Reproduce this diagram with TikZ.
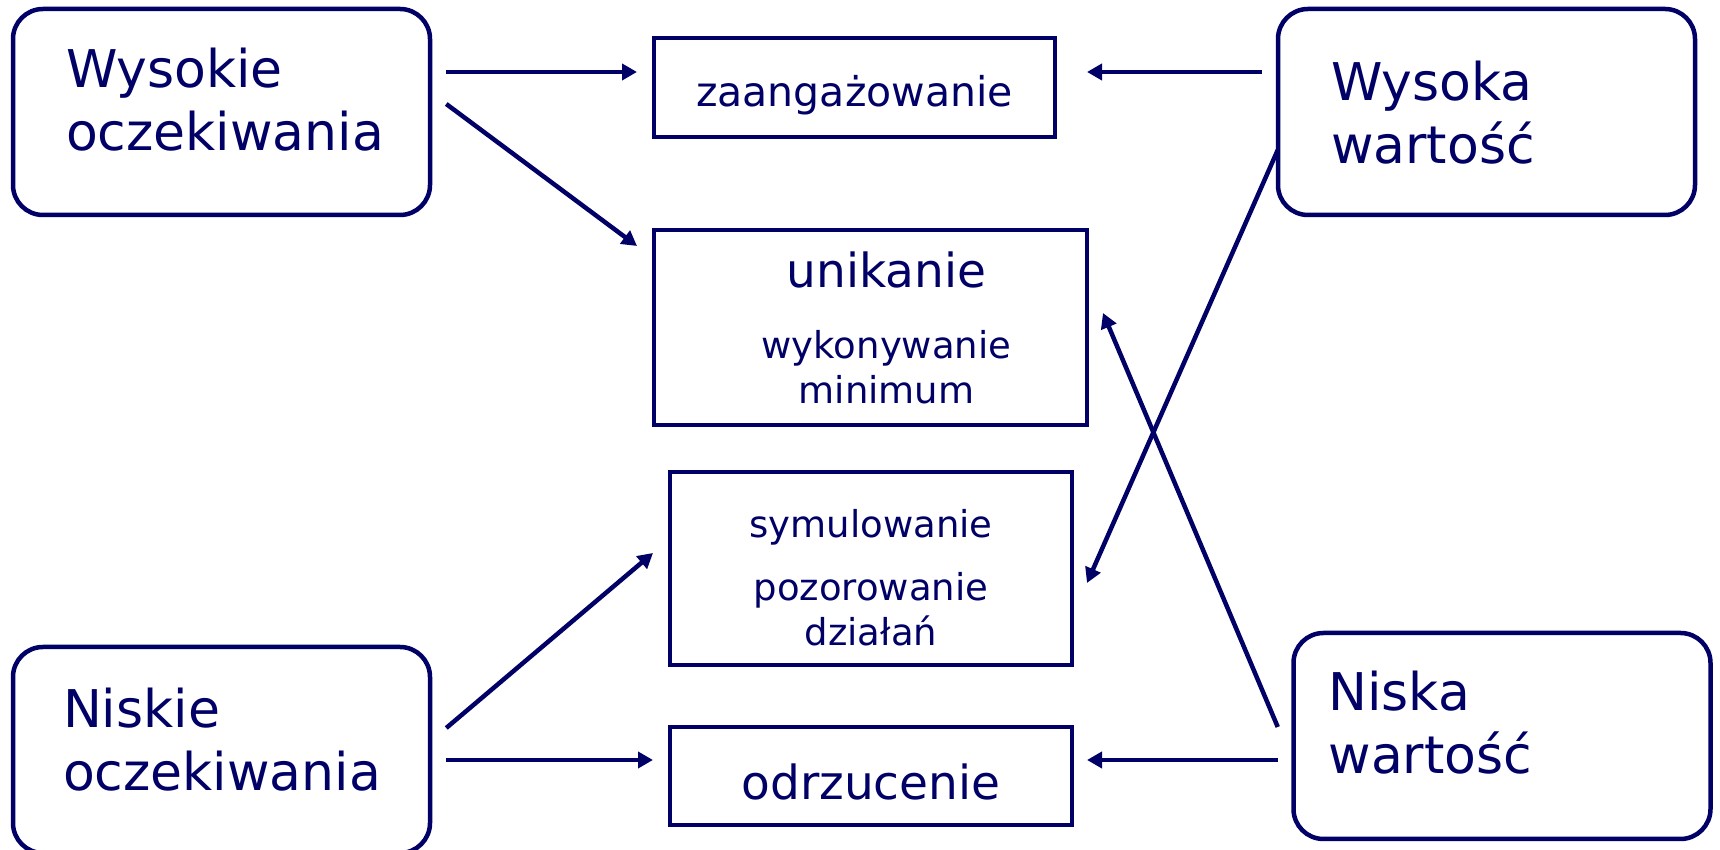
\documentclass[tikz,border=0pt]{standalone}
\usepackage{fontspec}
\setmainfont{DejaVu Sans}
\usetikzlibrary{arrows.meta}
\definecolor{navy}{RGB}{0,0,102}
\tikzset{
  bigbox/.style={draw=navy, text=navy, line width=2.25pt, rounded corners=15pt,
    minimum width=208.5pt, minimum height=103pt, inner xsep=26.5pt,
    text width=155.5pt, align=left,
    font=\fontsize{26}{31.5}\selectfont},
  smallbox/.style={draw=navy, text=navy, line width=2pt, align=center,
    font=\fontsize{18.5}{22.5}\selectfont},
  arr/.style={draw=navy, line width=2.25pt, -{Triangle[length=7.5pt,width=8pt]}},
}
\begin{document}
\hyphenpenalty=10000
\begin{tikzpicture}[x=0.5pt, y=0.5pt]
\useasboundingbox (0,0) rectangle (1720,850);
% expectations
\node[bigbox, text depth=44.5pt] (wo) at (221.5,738) {Wysokie\\oczekiwania};
\node[bigbox, text depth=42.5pt, inner xsep=25pt, text width=158.5pt] (no) at (221.5,100) {Niskie\\oczekiwania};
% values
\node[bigbox, text depth=31pt] (ww) at (1486.5,738) {Wysoka\\wartość};
\node[bigbox, text depth=45.5pt, inner xsep=17.5pt, text width=173.5pt] (nw) at (1502,114) {Niska\\wartość};
% outcomes
\node[smallbox, minimum width=200.5pt, minimum height=49.5pt,
  font=\fontsize{20.5}{24}\selectfont, text height=19.5pt, text depth=0pt] (zaang) at (854.5,762.5) {zaangażowanie};
\node[smallbox, minimum width=216.5pt, minimum height=97.5pt] (unik) at (870.5,522.5)
  {\hspace{16pt}{\fontsize{23.5}{28}\selectfont unikanie}\\[13pt]\hspace{16pt}wykonywanie\\\hspace{16pt}minimum};
\node[smallbox, minimum width=201pt, minimum height=96.5pt, text height=77pt] (symul) at (871,281.5)
  {symulowanie\\[9pt]pozorowanie\\działań};
\node[smallbox, minimum width=201pt, minimum height=49pt,
  font=\fontsize{23.5}{28}\selectfont, text height=24pt, text depth=0pt] (odrz) at (871,74) {odrzucenie};
% arrows
\draw[arr] ([xshift=7pt,yshift=20pt]wo.east) -- ([xshift=-7.5pt,yshift=7.75pt]zaang.west);
\draw[arr] ([xshift=7pt,yshift=4pt]wo.east) -- ([xshift=-7.5pt,yshift=-9pt]unik.north west);
\draw[arr] ([xshift=-7pt,yshift=20pt]ww.west) -- ([xshift=15pt,yshift=7.75pt]zaang.east);
\draw[arr] ([xshift=1pt,yshift=-19pt]ww.west) -- ([xshift=6.5pt,yshift=-7.25pt]symul.east);
\draw[arr] ([xshift=-6.75pt,yshift=4.5pt]nw.west) -- ([xshift=7pt,yshift=7.25pt]unik.east);
\draw[arr] ([xshift=7pt,yshift=11pt]no.east) -- ([xshift=-7.5pt,yshift=7.75pt]symul.west);
\draw[arr] ([xshift=7pt,yshift=-5pt]no.east) -- ([xshift=-7.5pt,yshift=8pt]odrz.west);
\draw[arr] ([xshift=-6.75pt,yshift=-12pt]nw.west) -- ([xshift=6.5pt,yshift=8pt]odrz.east);
\end{tikzpicture}
\end{document}
